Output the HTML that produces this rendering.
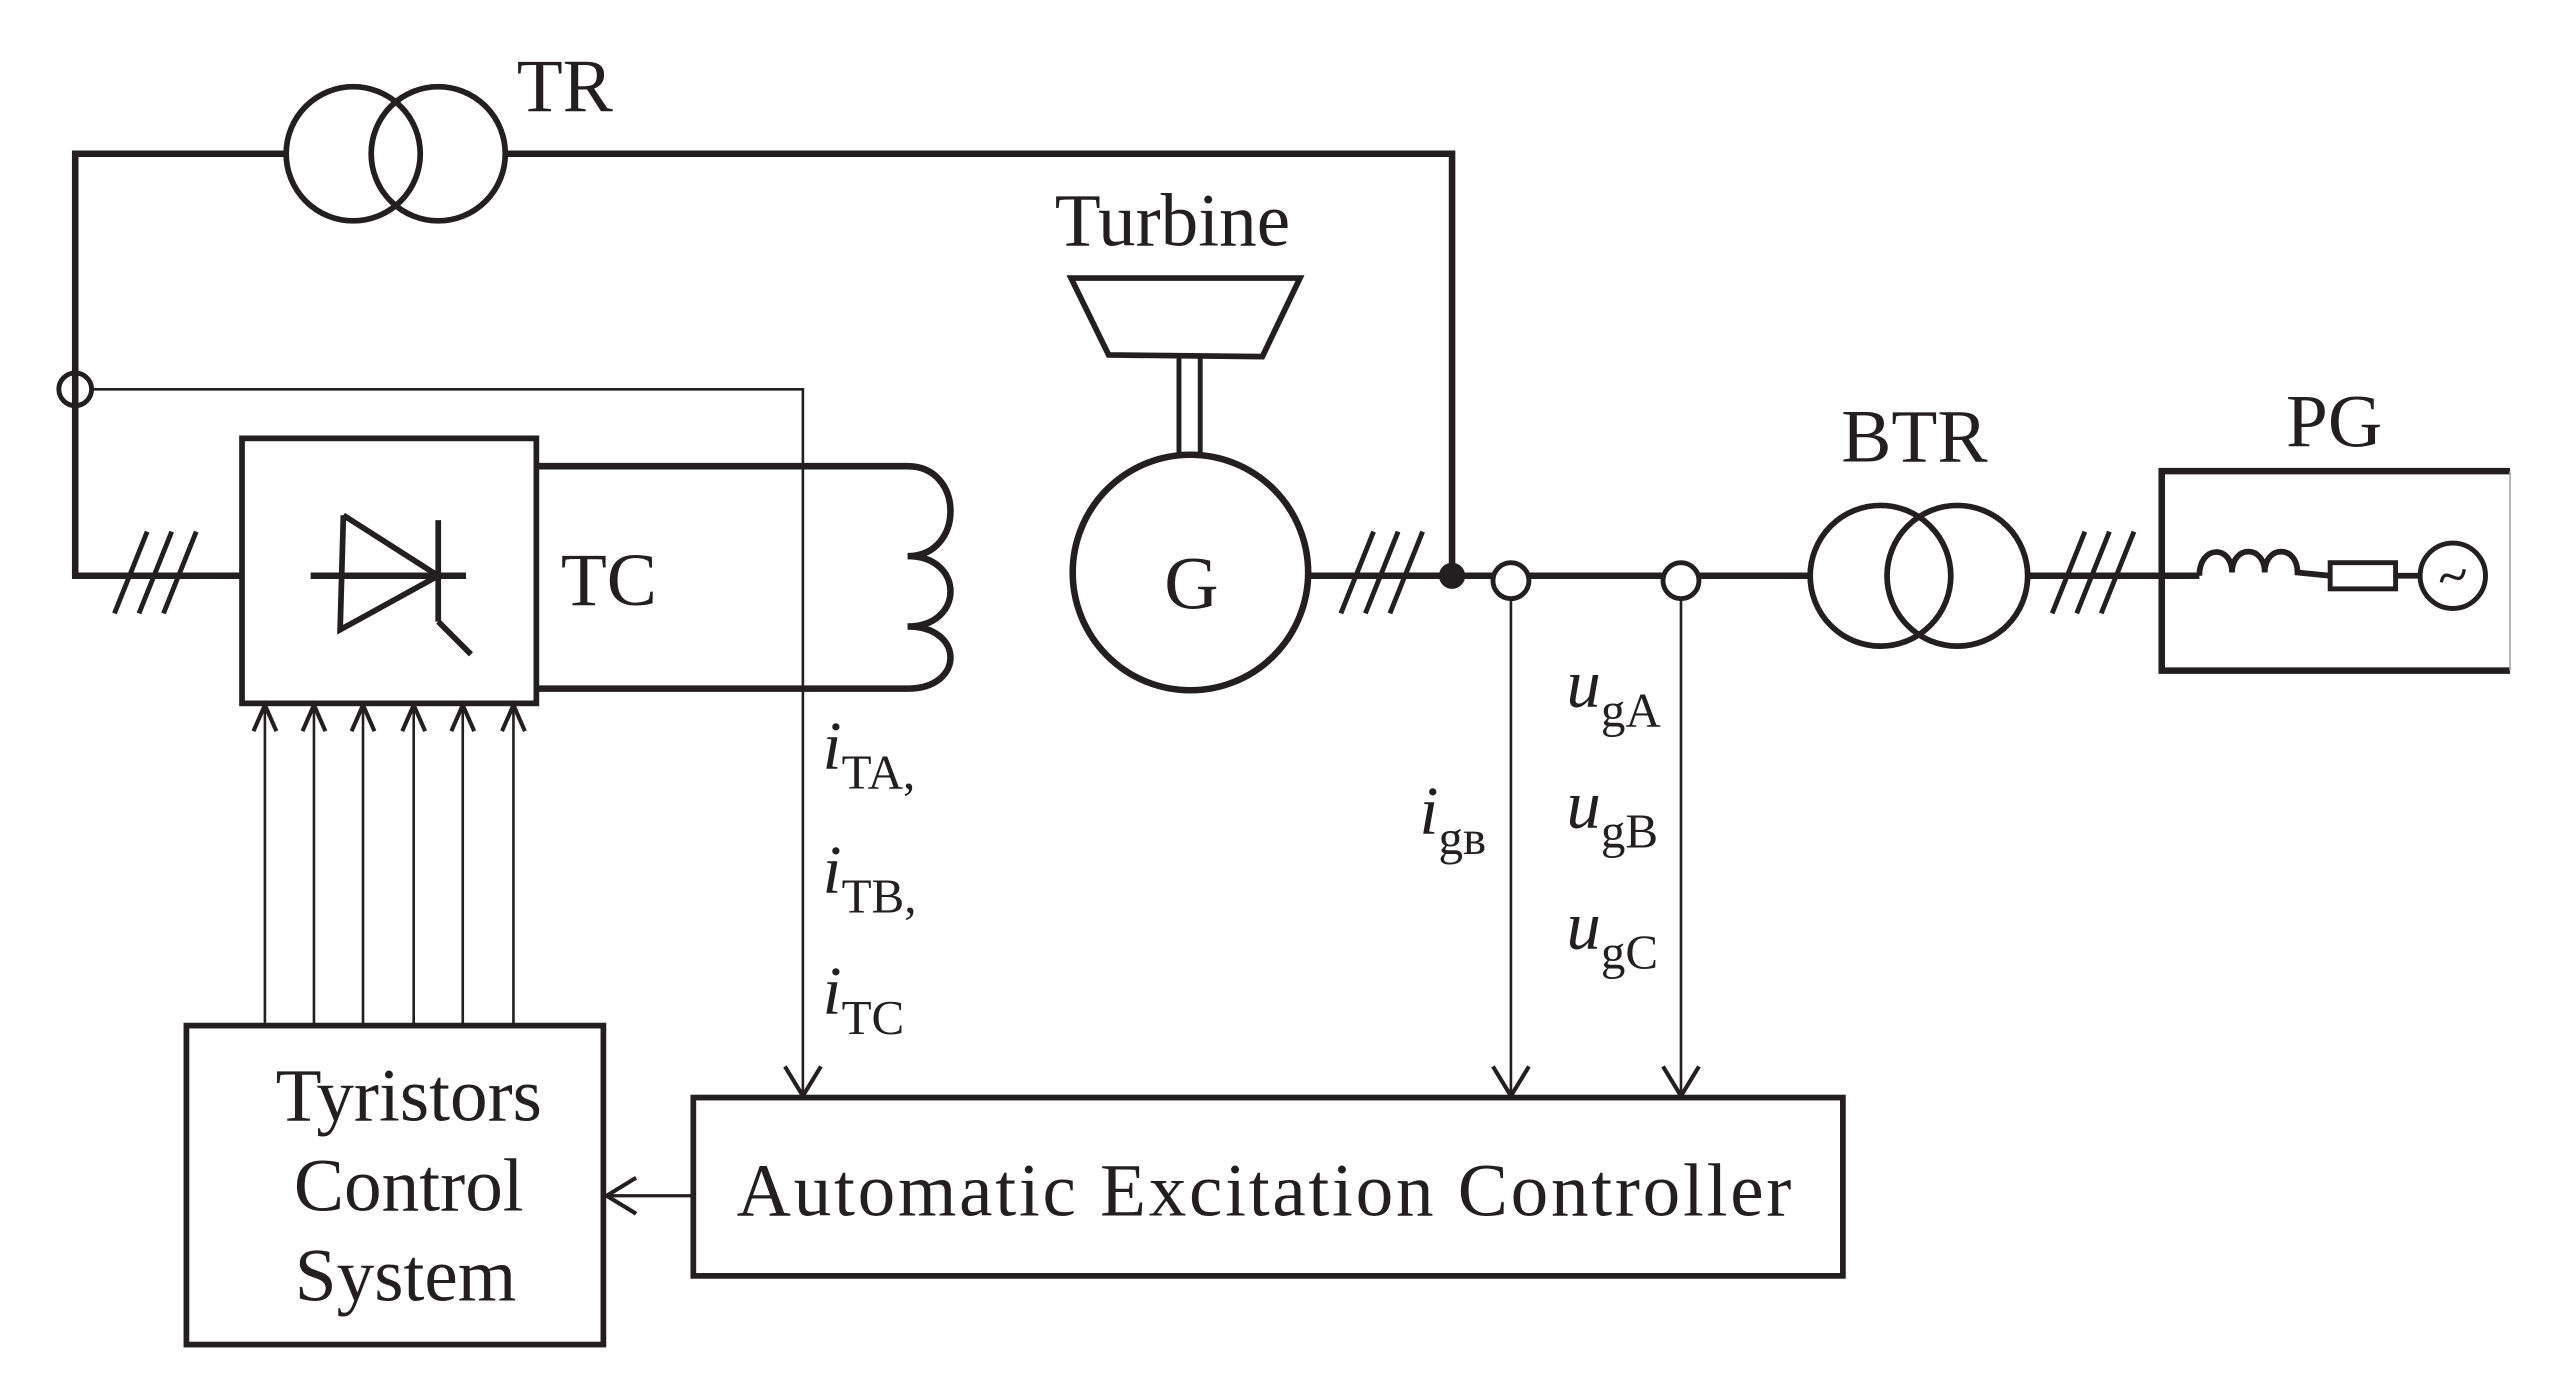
<!DOCTYPE html>
<html><head><meta charset="utf-8"><style>html,body{margin:0;padding:0;background:#fff}svg{display:block}</style></head>
<body>
<svg width="2564" height="1392" viewBox="0 0 1568 851" preserveAspectRatio="none" xmlns="http://www.w3.org/2000/svg" font-family="Liberation Serif, serif" fill="none" stroke="#231f20">
<g stroke-width="4">
<circle cx="216" cy="94" r="41" stroke-width="3.5"/>
<circle cx="268" cy="94" r="41" stroke-width="3.5"/>
<polyline points="175,94 46,94 46,352 148,352"/>
<polyline points="309,94 888,94 888,352"/>
<g stroke-width="3"><line x1="70" y1="375" x2="90" y2="325"/><line x1="85" y1="375" x2="105" y2="325"/><line x1="100" y1="375" x2="120" y2="325"/></g>
<rect x="148" y="268" width="180" height="162" stroke-width="3.5"/>
<polyline points="328,285 555,285"/>
<polyline points="328,421 555,421"/>
<path d="M555,285 C590,285 590,340 555,340 C590,340 590,383 555,383 C590,383 590,421 555,421" stroke-width="4"/>
<line x1="190" y1="352" x2="285" y2="352"/>
<polyline points="210,315 268,352 208,385 210,315" stroke-width="3.5"/>
<line x1="268" y1="318" x2="268" y2="380" stroke-width="3.5"/>
<line x1="268" y1="380" x2="288" y2="400" stroke-width="3.5"/>
<polygon points="655,170 795,170 772,218 678,217" stroke-width="3.5"/>
<line x1="721" y1="218" x2="721" y2="278" stroke-width="3"/>
<line x1="734" y1="218" x2="734" y2="278" stroke-width="3"/>
<circle cx="728" cy="350" r="72" stroke-width="4"/>
<line x1="800" y1="352" x2="1106" y2="352"/>
<g stroke-width="3"><line x1="820" y1="375" x2="840" y2="325"/><line x1="835" y1="375" x2="855" y2="325"/><line x1="850" y1="375" x2="870" y2="325"/></g>
<circle cx="888" cy="352" r="6" fill="#231f20"/>
<circle cx="924" cy="355" r="11" fill="#fff" stroke-width="3"/>
<circle cx="1028" cy="355" r="11" fill="#fff" stroke-width="3"/>
<circle cx="1150" cy="352" r="43" stroke-width="3.5"/>
<circle cx="1197" cy="352" r="43" stroke-width="3.5"/>
<line x1="1240" y1="352" x2="1345" y2="352"/>
<g stroke-width="3"><line x1="1255" y1="375" x2="1275" y2="325"/><line x1="1270" y1="375" x2="1290" y2="325"/><line x1="1285" y1="375" x2="1305" y2="325"/></g>
<polyline points="1535,288 1322,288 1322,410 1535,410" stroke-width="4"/>
<line x1="1535" y1="288" x2="1535" y2="410" stroke-width="1" stroke="#aaa"/>
<path d="M1345,352 C1345,333 1365,333 1365,350 C1365,333 1385,333 1385,350 C1385,333 1405,333 1405,350 L1425,352" stroke-width="3.5"/>
<rect x="1425" y="344" width="40" height="16" stroke-width="3"/>
<line x1="1465" y1="352" x2="1480" y2="352" stroke-width="3.5"/>
<circle cx="1500" cy="352" r="20" stroke-width="3"/>
<path d="M1493,356 C1495,344 1505,362 1507,348" stroke-width="2"/>
<rect x="114" y="627" width="255" height="195" stroke-width="3.5"/>
<rect x="424" y="671" width="703" height="109" stroke-width="3.5"/>
</g>
<g stroke-width="1.6">
<circle cx="46" cy="238" r="10" stroke-width="3"/>
<polyline points="56,238 491,238 491,670"/>
<polyline points="480,652 491,670 502,652" stroke-width="2.5"/>
<line x1="924" y1="366" x2="924" y2="670"/>
<polyline points="913,652 924,670 935,652" stroke-width="2.5"/>
<line x1="1028" y1="366" x2="1028" y2="670"/>
<polyline points="1017,652 1028,670 1039,652" stroke-width="2.5"/>
<line x1="424" y1="731" x2="371" y2="731" stroke-width="2"/>
<polyline points="389,720 371,731 389,742" stroke-width="2.5"/>
<g>
<line x1="162" y1="627" x2="162" y2="431"/><polyline points="155,447 162,431 169,447" stroke-width="2.5"/>
<line x1="192" y1="627" x2="192" y2="431"/><polyline points="185,447 192,431 199,447" stroke-width="2.5"/>
<line x1="222" y1="627" x2="222" y2="431"/><polyline points="215,447 222,431 229,447" stroke-width="2.5"/>
<line x1="253" y1="627" x2="253" y2="431"/><polyline points="246,447 253,431 260,447" stroke-width="2.5"/>
<line x1="283" y1="627" x2="283" y2="431"/><polyline points="276,447 283,431 290,447" stroke-width="2.5"/>
<line x1="314" y1="627" x2="314" y2="431"/><polyline points="307,447 314,431 321,447" stroke-width="2.5"/>
</g>
</g>
<g fill="#231f20" stroke="none" font-size="46">
<text x="316" y="68">TR</text>
<text x="645" y="150">Turbine</text>
<text x="343" y="370">TC</text>
<text x="712" y="372">G</text>
<text x="1126" y="282">BTR</text>
<text x="1398" y="273">PG</text>
<text x="250" y="685" text-anchor="middle">Tyristors</text>
<text x="250" y="740" text-anchor="middle">Control</text>
<text x="248" y="795" text-anchor="middle">System</text>
<text x="773" y="743" text-anchor="middle" textLength="645">Automatic Excitation Controller</text>
<g font-size="42">
<text x="503" y="470"><tspan font-style="italic">i</tspan><tspan font-size="30" dy="12">TA,</tspan></text>
<text x="503" y="546"><tspan font-style="italic">i</tspan><tspan font-size="30" dy="12">TB,</tspan></text>
<text x="503" y="620"><tspan font-style="italic">i</tspan><tspan font-size="30" dy="12">TC</tspan></text>
<text x="868" y="510"><tspan font-style="italic">i</tspan><tspan font-size="30" dy="12">gв</tspan></text>
<text x="958" y="432"><tspan font-style="italic">u</tspan><tspan font-size="30" dy="12">gA</tspan></text>
<text x="958" y="506"><tspan font-style="italic">u</tspan><tspan font-size="30" dy="12">gB</tspan></text>
<text x="958" y="580"><tspan font-style="italic">u</tspan><tspan font-size="30" dy="12">gC</tspan></text>
</g>
</g>
</svg>
</body></html>
